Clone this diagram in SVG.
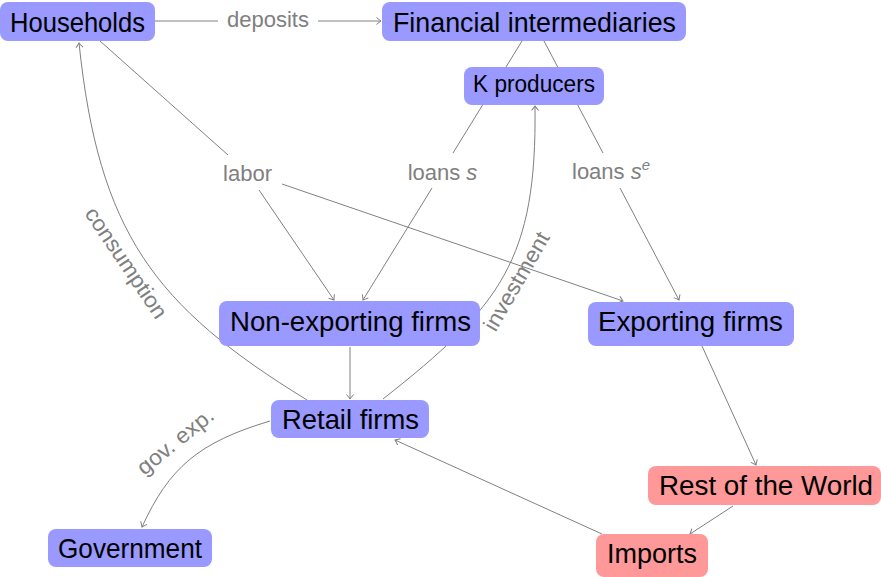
<svg xmlns="http://www.w3.org/2000/svg" width="881" height="577" viewBox="0 0 881 577">
<style>
.node{fill:#9999ff}
.red{fill:#ff9999}
.nt{font-family:"Liberation Sans",Arial,sans-serif;font-size:27.5px;fill:#000;text-anchor:middle}
.lab{font-family:"Liberation Sans",Arial,sans-serif;font-size:22px;fill:#808080;text-anchor:middle}
.edge{fill:none;stroke:#808080;stroke-width:1}
</style>
<defs>
<marker id="arr" viewBox="-6 -5 7 10" markerWidth="7" markerHeight="10" refX="0" refY="0" orient="auto" markerUnits="userSpaceOnUse">
<path d="M-4.5,-3.5 Q-1.5,-1 0,0 Q-1.5,1 -4.5,3.5" fill="none" stroke="#808080" stroke-width="1"/>
</marker>
</defs>
<rect width="881" height="577" fill="#fff"/>
<g id="connectors">
<path class="edge" d="M155,21 H218"/>
<path class="edge" d="M318,21 H381" marker-end="url(#arr)"/>
<path class="edge" d="M100,41 L228,155"/>
<path class="edge" d="M259,190 L334,300" marker-end="url(#arr)"/>
<path class="edge" d="M282,184 L623,301" marker-end="url(#arr)"/>
<path class="edge" d="M522,41 L453,153"/>
<path class="edge" d="M432,188 L363,300" marker-end="url(#arr)"/>
<path class="edge" d="M544,41 L603,153"/>
<path class="edge" d="M620,188 L679,300" marker-end="url(#arr)"/>
<path class="edge" d="M350,347 L350,399" marker-end="url(#arr)"/>
<path class="edge" d="M307,400 C153.6,305.9 98.8,232 79,43" marker-end="url(#arr)"/>
<path class="edge" d="M383,399 C500.8,306.2 537,260 535,106" marker-end="url(#arr)"/>
<path class="edge" d="M270,421 C198.1,442.5 169.1,467.9 142,527" marker-end="url(#arr)"/>
<path class="edge" d="M702,346 L756,465" marker-end="url(#arr)"/>
<path class="edge" d="M733,506 L690,534" marker-end="url(#arr)"/>
<path class="edge" d="M602,534 L395,440" marker-end="url(#arr)"/>
<text class="lab" x="268" y="27" textLength="82" lengthAdjust="spacingAndGlyphs">deposits</text>
<text class="lab" x="247.5" y="181" textLength="49" lengthAdjust="spacingAndGlyphs">labor</text>
<text class="lab" x="442.5" y="180">loans <tspan font-style="italic">s</tspan></text>
<text class="lab" x="572" y="179" style="text-anchor:start">loans <tspan font-style="italic">s</tspan><tspan font-style="italic" font-size="15" dy="-9">e</tspan></text>
<text class="lab" transform="translate(120,267) rotate(56)" textLength="129" lengthAdjust="spacingAndGlyphs">consumption</text>
<text class="lab" transform="translate(523,285) rotate(-60)" textLength="110" lengthAdjust="spacingAndGlyphs">investment</text>
<text class="lab" transform="translate(180,447) rotate(-39)" textLength="92" lengthAdjust="spacingAndGlyphs">gov. exp.</text>
</g>
<g id="households"><rect class="node" x="0" y="2" width="155" height="39" rx="8"/><text class="nt" x="77.5" y="32" textLength="135" lengthAdjust="spacingAndGlyphs">Households</text></g>
<g id="financial-intermediaries"><rect class="node" x="382" y="2" width="304" height="39" rx="8"/><text class="nt" x="534.5" y="32" textLength="283" lengthAdjust="spacingAndGlyphs">Financial intermediaries</text></g>
<g id="k-producers"><rect class="node" x="464" y="67" width="140" height="38" rx="8"/><text class="nt" x="534" y="92" style="font-size:23px" textLength="122" lengthAdjust="spacingAndGlyphs">K producers</text></g>
<g id="non-exporting-firms"><rect class="node" x="219" y="301" width="261" height="45" rx="8"/><text class="nt" x="350.5" y="331" textLength="241" lengthAdjust="spacingAndGlyphs">Non-exporting firms</text></g>
<g id="exporting-firms"><rect class="node" x="588" y="302" width="206" height="44" rx="8"/><text class="nt" x="690.5" y="331" textLength="185" lengthAdjust="spacingAndGlyphs">Exporting firms</text></g>
<g id="retail-firms"><rect class="node" x="271" y="400" width="158" height="38" rx="8"/><text class="nt" x="350.5" y="429" textLength="137" lengthAdjust="spacingAndGlyphs">Retail firms</text></g>
<g id="government"><rect class="node" x="48" y="529" width="164" height="38" rx="8"/><text class="nt" x="130" y="558" textLength="144" lengthAdjust="spacingAndGlyphs">Government</text></g>
<g id="rest-of-the-world"><rect class="red" x="648" y="466" width="233" height="39" rx="8"/><text class="nt" x="766" y="495" textLength="214" lengthAdjust="spacingAndGlyphs">Rest of the World</text></g>
<g id="imports"><rect class="red" x="596" y="534" width="112" height="43" rx="8"/><text class="nt" x="652" y="563" textLength="90" lengthAdjust="spacingAndGlyphs">Imports</text></g>
</svg>
